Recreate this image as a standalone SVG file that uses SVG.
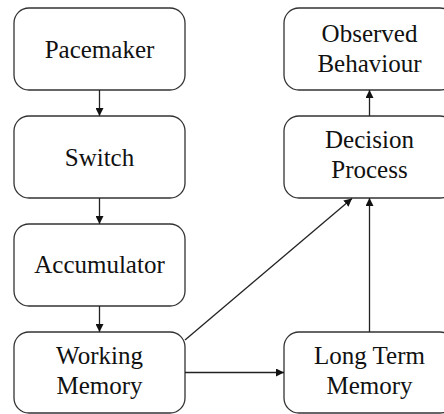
<svg xmlns="http://www.w3.org/2000/svg" width="444" height="414" viewBox="0 0 444 414">
<style>
.box{fill:#fff;stroke:#333;stroke-width:1.3}
.lbl{font-size:25px;fill:#111;text-anchor:middle}
.con{stroke:#222;stroke-width:1.3;fill:none;marker-end:url(#ah)}
</style>
<defs>
<marker id="ah" viewBox="0 0 10 10" refX="10" refY="5" markerWidth="8" markerHeight="8" markerUnits="userSpaceOnUse" orient="auto">
<path d="M0,0 L10,5 L0,10 z" fill="#111"/>
</marker>
</defs>
<rect width="444" height="414" fill="#fff"/>
<g font-family="Liberation Serif, Times New Roman, serif">
<g id="pacemaker"><rect class="box" x="14" y="8" width="171" height="82" rx="15"/><text class="lbl" x="99.5" y="58">Pacemaker</text></g>
<g id="switch"><rect class="box" x="14" y="116" width="171" height="82" rx="15"/><text class="lbl" x="99.5" y="166">Switch</text></g>
<g id="accumulator"><rect class="box" x="14" y="224" width="171" height="82" rx="15"/><text class="lbl" x="99.5" y="273">Accumulator</text></g>
<g id="working-memory"><rect class="box" x="14" y="332" width="171" height="81" rx="15"/><text class="lbl" x="99.5" y="364">Working</text><text class="lbl" x="99.5" y="394">Memory</text></g>
<g id="observed-behaviour"><rect class="box" x="284" y="8" width="171" height="82" rx="15"/><text class="lbl" x="369.5" y="42">Observed</text><text class="lbl" x="369.5" y="72">Behaviour</text></g>
<g id="decision-process"><rect class="box" x="284" y="116" width="171" height="82" rx="15"/><text class="lbl" x="369.5" y="148">Decision</text><text class="lbl" x="369.5" y="178">Process</text></g>
<g id="long-term-memory"><rect class="box" x="284" y="332" width="171" height="81" rx="15"/><text class="lbl" x="369.5" y="364">Long Term</text><text class="lbl" x="369.5" y="394">Memory</text></g>
</g>
<g id="connectors">
<line class="con" x1="99.5" y1="90" x2="99.5" y2="116"/>
<line class="con" x1="99.5" y1="198" x2="99.5" y2="224"/>
<line class="con" x1="99.5" y1="306" x2="99.5" y2="332"/>
<line class="con" x1="369.5" y1="116" x2="369.5" y2="90"/>
<line class="con" x1="185" y1="340" x2="352" y2="198.5"/>
<line class="con" x1="369.5" y1="332" x2="369.5" y2="198"/>
<line class="con" x1="185" y1="372.5" x2="284" y2="372.5"/>
</g>
</svg>
